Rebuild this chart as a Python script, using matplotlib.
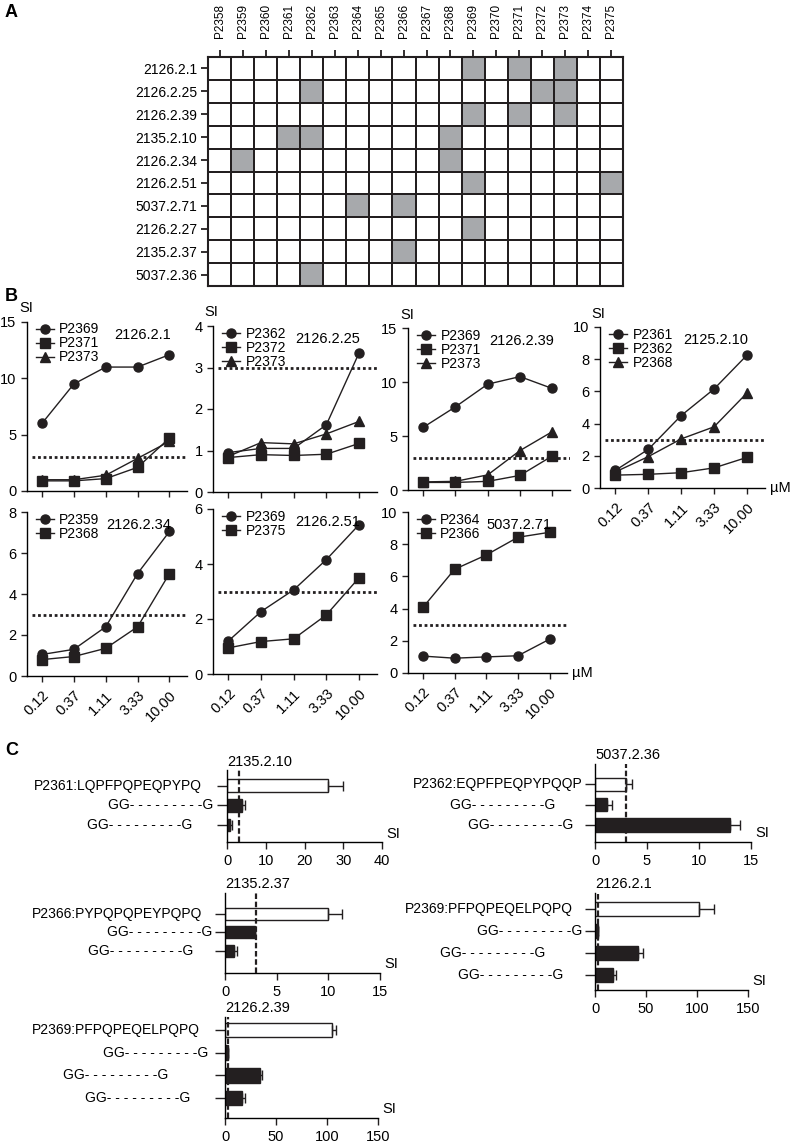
import matplotlib
matplotlib.use('Agg')
import matplotlib.pyplot as plt
import numpy as np
from matplotlib.colors import ListedColormap

plt.rcParams['font.family'] = ['Liberation Sans', 'DejaVu Sans']
plt.rcParams['font.size'] = 10
plt.rcParams['axes.linewidth'] = 1.0
INK = '#231f20'
GREY = '#a7a9ac'
W, H = 795, 1145

# ====== PANEL A DATA ======
peptides = ['P2358', 'P2359', 'P2360', 'P2361', 'P2362', 'P2363', 'P2364', 'P2365', 'P2366',
            'P2367', 'P2368', 'P2369', 'P2370', 'P2371', 'P2372', 'P2373', 'P2374', 'P2375']
clones = ['2126.2.1', '2126.2.25', '2126.2.39', '2135.2.10', '2126.2.34',
          '2126.2.51', '5037.2.71', '2126.2.27', '2135.2.37', '5037.2.36']
positive = [
    ['P2369', 'P2371', 'P2373'],
    ['P2362', 'P2372', 'P2373'],
    ['P2369', 'P2371', 'P2373'],
    ['P2361', 'P2362', 'P2368'],
    ['P2359', 'P2368'],
    ['P2369', 'P2375'],
    ['P2364', 'P2366'],
    ['P2369'],
    ['P2366'],
    ['P2362'],
]

# ====== PANEL B DATA ======
doses = ['0.12', '0.37', '1.11', '3.33', '10.00']
b_titles = ['2126.2.1', '2126.2.25', '2126.2.39', '2125.2.10', '2126.2.34', '2126.2.51', '5037.2.71']
b_peptides = [
    ['P2369', 'P2371', 'P2373'],
    ['P2362', 'P2372', 'P2373'],
    ['P2369', 'P2371', 'P2373'],
    ['P2361', 'P2362', 'P2368'],
    ['P2359', 'P2368'],
    ['P2369', 'P2375'],
    ['P2364', 'P2366'],
]
b_values = [
    [[6.0, 9.5, 11.0, 11.0, 12.1], [0.9, 0.9, 1.1, 2.1, 4.7], [1.0, 1.0, 1.4, 2.9, 4.4]],
    [[0.95, 1.05, 1.05, 1.62, 3.35], [0.83, 0.9, 0.88, 0.91, 1.17], [0.86, 1.19, 1.16, 1.4, 1.7]],
    [[5.8, 7.7, 9.8, 10.5, 9.4], [0.7, 0.7, 0.8, 1.35, 3.15], [0.75, 0.8, 1.4, 3.65, 5.4]],
    [[1.1, 2.4, 4.5, 6.15, 8.25], [0.8, 0.85, 0.95, 1.25, 1.9], [1.0, 1.95, 3.05, 3.8, 5.9]],
    [[1.05, 1.3, 2.4, 5.0, 7.05], [0.8, 0.95, 1.35, 2.4, 5.0]],
    [[1.2, 2.27, 3.06, 4.16, 5.43], [0.95, 1.18, 1.28, 2.15, 3.5]],
    [[1.05, 0.92, 1.0, 1.07, 2.1], [4.07, 6.44, 7.33, 8.43, 8.74]],
]
b_ymax = [15, 4, 15, 10, 8, 6, 10]
b_ystep = [5, 1, 5, 2, 2, 2, 2]
threshold = 3

# ====== PANEL C DATA ======
GG = 'GG- - - - - - - - -G'
c_titles = ['2135.2.10', '5037.2.36', '2135.2.37', '2126.2.1', '2126.2.39']
c_labels = [
    ['P2361:LQPFPQPEQPYPQ', GG, GG],
    ['P2362:EQPFPEQPYPQQP', GG, GG],
    ['P2366:PYPQPQPEYPQPQ', GG, GG],
    ['P2369:PFPQPEQELPQPQ', GG, GG, GG],
    ['P2369:PFPQPEQELPQPQ', GG, GG, GG],
]
c_values = [
    [26.0, 3.8, 0.9],
    [3.0, 1.2, 13.0],
    [10.0, 2.9, 0.9],
    [102.0, 3.0, 42.0, 18.0],
    [105.0, 3.0, 34.0, 17.0],
]
c_errors = [
    [4.0, 0.8, 0.4],
    [0.6, 0.4, 0.9],
    [1.3, 0.0, 0.3],
    [15.0, 0.0, 5.0, 3.0],
    [4.0, 0.0, 2.0, 3.0],
]
c_xmax = [40, 15, 15, 150, 150]
c_xstep = [10, 5, 5, 50, 50]


def box(x0, y0, x1, y1):
    return [x0 / W, 1 - y1 / H, (x1 - x0) / W, (y1 - y0) / H]


fig = plt.figure(figsize=(W / 100, H / 100), dpi=100)
for lab, (px, py) in zip('ABC', [(5, 4), (5, 288), (5, 742)]):
    fig.text(px / W, 1 - py / H, lab, fontsize=13, fontweight='bold', va='top', ha='left')

# ====== PANEL A ======
ax = fig.add_axes(box(208, 57, 623, 286))
grid = np.array([[1 if p in pos else 0 for p in peptides] for pos in positive])
ax.pcolormesh(grid, cmap=ListedColormap(['white', GREY]), edgecolors=INK, linewidth=1.3)
ax.set_xlim(0, len(peptides))
ax.set_ylim(len(clones), 0)
ax.xaxis.tick_top()
ax.set_xticks(np.arange(len(peptides)) + 0.5)
ax.set_xticklabels(peptides, rotation=90, fontsize=8.5)
ax.set_yticks(np.arange(len(clones)) + 0.5)
ax.set_yticklabels(clones, fontsize=10)
ax.tick_params(axis='x', length=5, width=1.3, pad=9, color=INK)
ax.tick_params(axis='y', length=5, width=1.3, pad=3, color=INK)
for s in ax.spines.values():
    s.set_linewidth(1.5)
    s.set_color(INK)

# ====== PANEL B ======
b_boxes = [(27, 322, 187, 491), (213, 326, 377, 492), (408, 328, 570, 490), (600, 327, 765, 488),
           (27, 512, 187, 676), (213, 509, 377, 674), (408, 512, 567, 673)]
markers = ['o', 's', '^']
x = np.arange(len(doses))
for i, bx in enumerate(b_boxes):
    ax = fig.add_axes(box(*bx))
    for j, (pep, vals) in enumerate(zip(b_peptides[i], b_values[i])):
        ax.plot(x, vals, marker=markers[j], color=INK, lw=1.0, ms=6.5, label=pep, clip_on=False)
    ax.axhline(threshold, xmin=0.03, xmax=1.0, color=INK, lw=2.0, ls=(0, (1, 1)))
    ax.set_xlim(-0.47, 4.55)
    ax.set_ylim(0, b_ymax[i])
    ax.set_yticks(np.arange(0, b_ymax[i] + 0.01, b_ystep[i]))
    ax.set_xticks(x)
    if i >= 3:
        ax.set_xticklabels(doses, rotation=45, ha='right', rotation_mode='anchor', fontsize=10)
    else:
        ax.set_xticklabels([])
    ax.spines[['top', 'right']].set_visible(False)
    ax.tick_params(length=4, width=1.0, labelsize=10.5, color=INK)
    ax.tick_params(axis='x', pad=5)
    ax.legend(loc='upper left', bbox_to_anchor=(0.02, 1.03), frameon=False, fontsize=10,
              handlelength=1.3, handletextpad=0.4, labelspacing=0.0, borderaxespad=0)
    ax.text(0.9, 0.965, b_titles[i], transform=ax.transAxes, ha='right', va='top', fontsize=10.5)
    if i < 4:
        ax.text(-0.05, 1.04, 'SI', transform=ax.transAxes, ha='left', va='bottom', fontsize=10.5)
    if i in (3, 6):
        ax.text(1.03, 0.0, 'µM', transform=ax.transAxes, ha='left', va='center', fontsize=10.5)

# ====== PANEL C ======
c_boxes = [(227, 770, 382, 842), (595, 764, 751, 842), (225, 893, 380, 973),
           (595, 893, 748, 990), (225, 1017, 378, 1118)]
c_ylims = [(2.87, -0.8), (2.83, -1.0), (3.19, -1.13), (3.7, -0.73), (3.88, -0.57)]
c_offsets = [[25, 14, 35], [12, 40, 22], [23, 13, 32], [22, 13, 50, 32], [25, 17, 57, 35]]
for i, bx in enumerate(c_boxes):
    ax = fig.add_axes(box(*bx))
    n = len(c_values[i])
    ys = np.arange(n)
    colors = ['white'] + [INK] * (n - 1)
    ax.barh(ys, c_values[i], height=0.65, color=colors, edgecolor=INK, lw=1.0, zorder=2)
    ax.errorbar(c_values[i], ys, xerr=[np.zeros(n), c_errors[i]], fmt='none', ecolor=INK,
                elinewidth=1.0, capsize=3.5, capthick=1.0, zorder=3)
    ax.axvline(threshold, color=INK, lw=1.6, ls=(0, (2.5, 1.2)), zorder=4)
    ax.set_xlim(0, c_xmax[i])
    ax.set_ylim(*c_ylims[i])
    ax.set_xticks(np.arange(0, c_xmax[i] + 0.01, c_xstep[i]))
    ax.set_yticks(ys)
    ax.set_yticklabels([])
    ax.spines[['top', 'right']].set_visible(False)
    ax.tick_params(axis='x', length=5, width=1.0, labelsize=10.5, color=INK)
    ax.tick_params(axis='y', length=7, width=1.0, color=INK)
    for y, lab, off in zip(ys, c_labels[i], c_offsets[i]):
        ax.annotate(lab, xy=(0, y), xycoords=('axes fraction', 'data'), xytext=(-off * 0.72, 0),
                    textcoords='offset points', ha='right', va='center', fontsize=10)
    ax.text(0.0, 1.02, c_titles[i], transform=ax.transAxes, ha='left', va='bottom', fontsize=10.5)
    ax.text(1.03, 0.02, 'SI', transform=ax.transAxes, ha='left', va='bottom', fontsize=10.5)

fig.savefig('out.png', dpi=100)
